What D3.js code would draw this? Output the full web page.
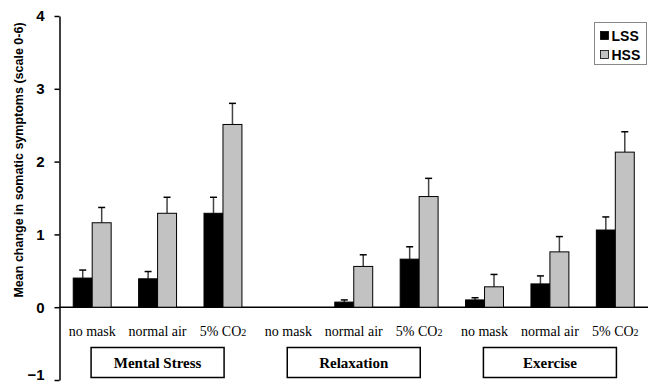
<!DOCTYPE html>
<html>
<head>
<meta charset="utf-8">
<script src="https://cdn.jsdelivr.net/npm/d3@7"></script>
<style>
  body { margin: 0; background: #fff; }
  svg { display: block; }
</style>
</head>
<body>
<svg></svg>
<script>
const width = 649,
      height = 385;

// data
const tasks = ['Mental Stress', 'Relaxation', 'Exercise'],
      conditions = ['no mask', 'normal air', '5% CO2'],
      series = ['LSS', 'HSS'],
      lssMean = [0.40, 0.39, 1.29, 0, 0.07, 0.66, 0.10, 0.32, 1.06],
      lssErr = [0.51, 0.49, 1.51, 0, 0.10, 0.83, 0.13, 0.43, 1.24],
      hssMean = [1.16, 1.29, 2.51, 0, 0.56, 1.52, 0.28, 0.76, 2.13],
      hssErr = [1.37, 1.51, 2.80, 0, 0.72, 1.77, 0.45, 0.97, 2.41],
      yTicks = [-1, 0, 1, 2, 3, 4];

const rows = [];
tasks.forEach((t, i) => conditions.forEach((c, j) => {
  const k = i * 3 + j;
  rows.push({ key: k, task: t, cond: c,
    LSS: { v: lssMean[k], e: lssErr[k] },
    HSS: { v: hssMean[k], e: hssErr[k] } });
}));

const colors = { LSS: '#000', HSS: '#c2c2c2' };

const svg = d3.select('svg')
    .attr('width', width)
    .attr('height', height);

const xScale = d3.scaleBand()
                 .domain(rows.map((d) => d.key))
                 .range([59.5, 648])
                 .paddingInner(0.42)
                 .paddingOuter(0.21),
      xSub = d3.scaleBand()
               .domain(series)
               .range([0, xScale.bandwidth()]),
      yScale = d3.scaleLinear()
                 .domain([-1, 4])
                 .range([380, 16]);

// y axis
const yAxis = d3.axisLeft(yScale)
                .tickValues(yTicks)
                .tickFormat(d3.format('d'))
                .tickSize(5)
                .tickSizeOuter(0)
                .tickPadding(10);

const gy = svg.append('g')
    .attr('transform', 'translate(59.5,0)')
    .call(yAxis);
gy.select('.domain').attr('stroke', '#000').attr('stroke-width', 1.5);
gy.selectAll('.tick line').attr('stroke-width', 1.5);
gy.selectAll('.tick text')
    .attr('font-family', 'Liberation Sans, Arial, sans-serif')
    .attr('font-weight', 'bold')
    .attr('font-size', 15)
    .attr('fill', '#000')
    .attr('dy', (d) => d === -1 ? '-0.05em' : '0.32em');

// zero line
svg.append('line')
    .attr('x1', 59.5)
    .attr('x2', 648)
    .attr('y1', yScale(0))
    .attr('y2', yScale(0))
    .attr('stroke', '#000')
    .attr('stroke-width', 1.5);

// bars
const groups = svg.selectAll('g.grp')
  .data(rows)
  .enter()
  .append('g')
    .attr('class', 'grp')
    .attr('transform', (d) => `translate(${xScale(d.key)},0)`);

const cells = groups.selectAll('g.cell')
  .data((d) => series.map((s) => ({ s: s, v: d[s].v, e: d[s].e })).filter((c) => c.v > 0))
  .enter()
  .append('g')
    .attr('class', 'cell');

cells.append('line')
    .attr('x1', (d) => xSub(d.s) + xSub.bandwidth() / 2)
    .attr('x2', (d) => xSub(d.s) + xSub.bandwidth() / 2)
    .attr('y1', (d) => yScale(d.v))
    .attr('y2', (d) => yScale(d.e))
    .attr('stroke', '#444')
    .attr('stroke-width', 1.5);

cells.append('line')
    .attr('x1', (d) => xSub(d.s) + xSub.bandwidth() / 2 - 3.5)
    .attr('x2', (d) => xSub(d.s) + xSub.bandwidth() / 2 + 3.5)
    .attr('y1', (d) => yScale(d.e))
    .attr('y2', (d) => yScale(d.e))
    .attr('stroke', '#000')
    .attr('stroke-width', 1.5);

cells.append('rect')
    .attr('x', (d) => xSub(d.s))
    .attr('y', (d) => yScale(d.v))
    .attr('width', xSub.bandwidth())
    .attr('height', (d) => yScale(0) - yScale(d.v))
    .attr('fill', (d) => colors[d.s])
    .attr('stroke', '#000')
    .attr('stroke-width', 1);

// condition labels
const condText = svg.selectAll('text.cond')
  .data(rows)
  .enter()
  .append('text')
    .attr('class', 'cond')
    .attr('x', (d) => xScale(d.key) + xScale.bandwidth() / 2)
    .attr('y', 336)
    .attr('text-anchor', 'middle')
    .attr('font-family', 'Liberation Serif, Times New Roman, serif')
    .attr('font-size', 14)
    .attr('fill', '#000');
condText.each(function (d) {
  const t = d3.select(this);
  if (d.cond === '5% CO2') {
    t.append('tspan').text('5% CO');
    t.append('tspan').attr('font-size', 10).text('2');
  } else {
    t.text(d.cond);
  }
});

// task boxes
const taskG = svg.selectAll('g.task')
  .data(tasks)
  .enter()
  .append('g')
    .attr('class', 'task')
    .attr('transform', (d, i) => `translate(${xScale(i * 3 + 1) + xScale.bandwidth() / 2},0)`);

taskG.append('rect')
    .attr('x', -66.5)
    .attr('y', 347.5)
    .attr('width', 133)
    .attr('height', 30)
    .attr('fill', '#fff')
    .attr('stroke', '#000')
    .attr('stroke-width', 1.5);

taskG.append('text')
    .text((d) => d)
    .attr('y', 368)
    .attr('text-anchor', 'middle')
    .attr('font-family', 'Liberation Serif, Times New Roman, serif')
    .attr('font-weight', 'bold')
    .attr('font-size', 15)
    .attr('fill', '#000');

// y label
svg.append('text')
    .text('Mean change in somatic symptoms (scale 0-6)')
    .attr('transform', 'translate(23,160) rotate(-90)')
    .attr('text-anchor', 'middle')
    .attr('font-family', 'Liberation Sans, Arial, sans-serif')
    .attr('font-weight', 'bold')
    .attr('font-size', 12.5)
    .attr('fill', '#000');

// legend
const legend = svg.append('g')
    .attr('transform', 'translate(594.5,22.5)');

legend.append('rect')
    .attr('width', 52)
    .attr('height', 42)
    .attr('fill', '#fff')
    .attr('stroke', '#888')
    .attr('stroke-width', 1);

const li = legend.selectAll('g.item')
  .data(series)
  .enter()
  .append('g')
    .attr('class', 'item')
    .attr('transform', (d, i) => `translate(6,${8 + i * 19})`);

li.append('rect')
    .attr('width', 8)
    .attr('height', 8)
    .attr('y', 1)
    .attr('fill', (d) => colors[d])
    .attr('stroke', '#000')
    .attr('stroke-width', 0.8);

li.append('text')
    .text((d) => d)
    .attr('x', 11)
    .attr('y', 10)
    .attr('font-family', 'Liberation Sans, Arial, sans-serif')
    .attr('font-weight', 'bold')
    .attr('font-size', 14)
    .attr('fill', '#000');
</script>
</body>
</html>
